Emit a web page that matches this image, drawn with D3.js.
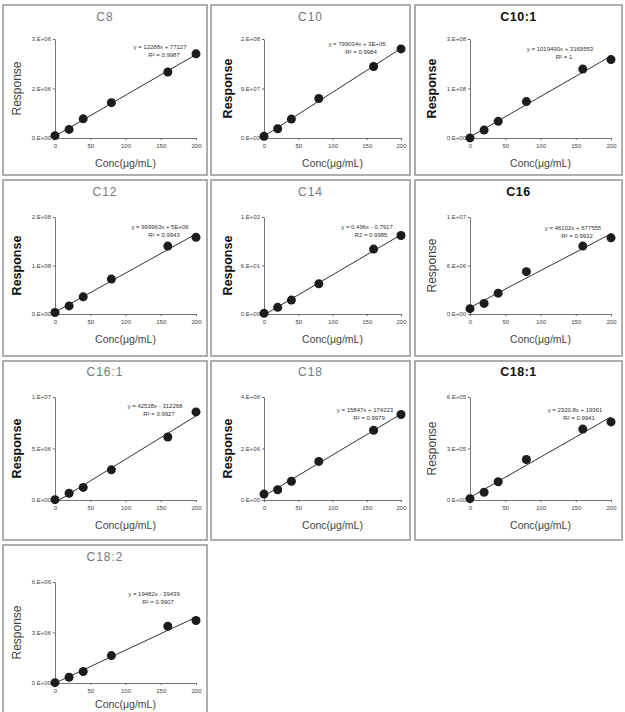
<!DOCTYPE html>
<html>
<head>
<meta charset="utf-8">
<script src="https://cdn.jsdelivr.net/npm/d3@7"></script>
<style>
  html, body { margin: 0; padding: 0; background: #fff; }
  svg { display: block; font-family: "Liberation Sans", Arial, sans-serif; }
</style>
</head>
<body>
<svg id="chart" width="625" height="712"></svg>
<script>
// ---------------- data ----------------
const compounds = ["C8", "C10", "C10:1", "C12", "C14", "C16", "C16:1", "C18", "C18:1", "C18:2"];
const conc = [0, 20, 40, 80, 160, 200];
const xTicks = [0, 50, 100, 150, 200];

const respC8   = [0.07e6, 0.26e6, 0.58e6, 1.07e6, 2.00e6, 2.55e6];
const respC10  = [3.0e6, 1.69e7, 3.44e7, 7.19e7, 1.30e8, 1.62e8];
const respC10_1 = [0.2e6, 2.0e7, 4.2e7, 9.2e7, 1.74e8, 1.98e8];
const respC12  = [3.0e6, 1.67e7, 3.54e7, 7.2e7, 1.40e8, 1.58e8];
const respC14  = [0.8, 8.2, 17.2, 37.3, 80.3, 97.1];
const respC16  = [0.66e6, 1.31e6, 2.58e6, 5.24e6, 8.40e6, 9.42e6];
const respC16_1 = [0.03e6, 0.66e6, 1.22e6, 2.93e6, 6.12e6, 8.55e6];
const respC18  = [0.23e6, 0.40e6, 0.73e6, 1.50e6, 2.71e6, 3.32e6];
const respC18_1 = [0.08e5, 0.45e5, 1.06e5, 2.36e5, 4.13e5, 4.55e5];
const respC18_2 = [0.02e6, 0.34e6, 0.68e6, 1.63e6, 3.37e6, 3.71e6];
const responses = [respC8, respC10, respC10_1, respC12, respC14, respC16, respC16_1, respC18, respC18_1, respC18_2];

const yMax = [3e6, 1.8e8, 2.5e8, 2e8, 120, 1.2e7, 1e7, 4e6, 6e5, 6e6];
const yTickLabels = [
  ["0.E+00", "2.E+06", "3.E+06"],
  ["0.E+00", "9.E+07", "2.E+08"],
  ["0.E+00", "1.E+08", "3.E+08"],
  ["0.E+00", "1.E+08", "2.E+08"],
  ["0.E+00", "6.E+01", "1.E+02"],
  ["0.E+00", "6.E+06", "1.E+07"],
  ["0.E+00", "5.E+06", "1.E+07"],
  ["0.E+00", "2.E+06", "4.E+06"],
  ["0.E+00", "3.E+05", "6.E+05"],
  ["0.E+00", "3.E+06", "6.E+06"]
];
const equations = [
  "y = 12288x + 77127", "y = 799034x + 3E+06", "y = 1019490x + 3169553",
  "y = 999963x + 5E+06", "y = 0.496x - 0.7917", "y = 46102x + 677555",
  "y = 42528x - 312268", "y = 15847x + 174223", "y = 2320.8x + 19361",
  "y = 19482x - 39439"
];
const r2Labels = [
  "R² = 0.9987", "R² = 0.9984", "R² = 1", "R² = 0.9943", "R2 = 0.9985",
  "R² = 0.9932", "R² = 0.9927", "R² = 0.9979", "R² = 0.9941", "R² = 0.9907"
];
// style variants seen in the figure (bold dark titles vs light grey titles)
const boldTitle = [false, false, true, false, false, true, false, false, true, false];
const boldYLabel = [false, true, true, true, true, false, true, true, false, false];

// ---------------- layout ----------------
const colX = [3, 211, 415], colW = [204, 199, 207];
const rowY = [5, 180, 361, 545], rowH = [170, 176, 179, 180];
const plotL = [52, 53, 55], plotR = [193, 190, 196];
const plotT = [34, 37, 36, 37], plotB = [133, 134, 139, 138];
const xLabOff = [29, 29, 29, 25];
const eqPos = [[157, 44], [146, 41], [145, 46], [157, 49], [156, 49], [158, 50], [152, 47], [154, 51], [160, 51], [151, 51]];

const svg = d3.select("#chart");

compounds.forEach((name, i) => {
  const c = i % 3, r = Math.floor(i / 3);
  const g = svg.append("g").attr("transform", `translate(${colX[c]},${rowY[r]})`);

  g.append("rect")
    .attr("x", 0).attr("y", 0)
    .attr("width", colW[c]).attr("height", rowH[r])
    .attr("fill", "#fff")
    .attr("stroke", "#9a9a9a").attr("stroke-width", 1.6);

  const x = d3.scaleLinear().domain([0, 200]).range([plotL[c], plotR[c]]);
  const y = d3.scaleLinear().domain([0, yMax[i]]).range([plotB[r], plotT[r]]);
  const yTicks = [0, yMax[i] / 2, yMax[i]];

  // x axis
  const xa = g.append("g").attr("transform", `translate(0,${plotB[r]})`)
    .call(d3.axisBottom(x).tickValues(xTicks).tickSize(2).tickPadding(4).tickSizeOuter(0));
  xa.select(".domain").attr("stroke", "#666").attr("stroke-width", 0.9);
  xa.selectAll(".tick line").attr("stroke", "#666");
  xa.selectAll("text").attr("font-size", 6).attr("fill", "#444").attr("font-family", "Liberation Sans, Arial, sans-serif");

  // y axis
  const ya = g.append("g").attr("transform", `translate(${plotL[c]},0)`)
    .call(d3.axisLeft(y).tickValues(yTicks).tickFormat((d, k) => yTickLabels[i][k]).tickSize(2).tickPadding(2).tickSizeOuter(0));
  ya.select(".domain").attr("stroke", "#666").attr("stroke-width", 0.9);
  ya.selectAll(".tick line").attr("stroke", "#666");
  ya.selectAll("text").attr("font-size", 6).attr("fill", "#444").attr("font-family", "Liberation Sans, Arial, sans-serif");

  // least squares trend line from the points
  const data = conc.map((cx, k) => ({ x: cx, y: responses[i][k] }));
  const mx = d3.mean(data, d => d.x), my = d3.mean(data, d => d.y);
  const slope = d3.sum(data, d => (d.x - mx) * (d.y - my)) / d3.sum(data, d => (d.x - mx) ** 2);
  const icpt = my - slope * mx;
  let x0 = 0;
  if (icpt < 0) x0 = -icpt / slope;
  g.append("line")
    .attr("x1", x(x0)).attr("y1", y(icpt + slope * x0))
    .attr("x2", x(200)).attr("y2", y(icpt + slope * 200))
    .attr("stroke", "#333").attr("stroke-width", 1);

  g.selectAll("circle").data(data).join("circle")
    .attr("cx", d => x(d.x)).attr("cy", d => y(d.y))
    .attr("r", 4.5).attr("fill", "#1c1c1c");

  // title
  g.append("text")
    .attr("x", colW[c] / 2)
    .attr("y", r === 2 ? 15 : 16)
    .attr("text-anchor", "middle")
    .attr("font-size", boldTitle[i] ? 12.5 : 12)
    .attr("font-weight", boldTitle[i] ? "bold" : "normal")
    .attr("letter-spacing", boldTitle[i] ? 0.5 : 1)
    .attr("fill", boldTitle[i] ? "#111" : "#777")
    .text(name);

  // y label
  const yMid = (plotT[r] + plotB[r]) / 2;
  g.append("text")
    .attr("transform", `translate(${c === 0 ? 18 : 21},${yMid}) rotate(-90)`)
    .attr("text-anchor", "middle")
    .attr("font-size", boldYLabel[i] ? 12.5 : 12)
    .attr("font-weight", boldYLabel[i] ? "bold" : "normal")
    .attr("fill", boldYLabel[i] ? "#111" : "#444")
    .text("Response");

  // x label
  g.append("text")
    .attr("x", (plotL[c] + plotR[c]) / 2)
    .attr("y", plotB[r] + xLabOff[r])
    .attr("text-anchor", "middle")
    .attr("font-size", 10.5)
    .attr("fill", "#444")
    .text("Conc(μg/mL)");

  // equation
  g.append("text")
    .attr("x", eqPos[i][0]).attr("y", eqPos[i][1])
    .attr("text-anchor", "middle").attr("font-size", 6).attr("fill", "#333")
    .text(equations[i]);
  g.append("text")
    .attr("x", eqPos[i][0] + 4).attr("y", eqPos[i][1] + 8)
    .attr("text-anchor", "middle").attr("font-size", 6).attr("fill", "#333")
    .text(r2Labels[i]);
});
</script>
</body>
</html>
